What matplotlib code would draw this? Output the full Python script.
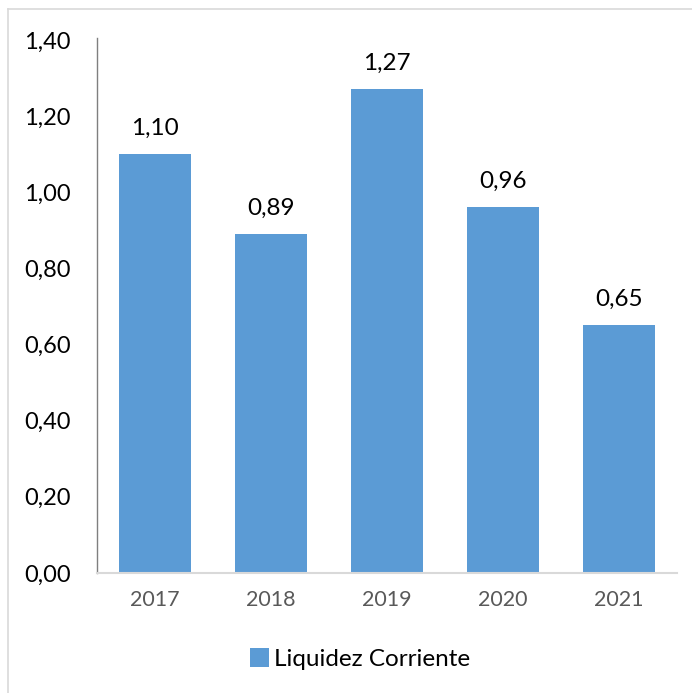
import matplotlib.pyplot as plt
from matplotlib.lines import Line2D

years = ['2017', '2018', '2019', '2020', '2021']
liquidez = [1.10, 0.89, 1.27, 0.96, 0.65]
y_ticks = [0.0, 0.2, 0.4, 0.6, 0.8, 1.0, 1.2, 1.4]

plt.rcParams['font.family'] = ['Lato', 'DejaVu Sans']

fig = plt.figure(figsize=(6.92, 6.93), dpi=100)
ax = fig.add_axes([97/692, 1 - 573/693, 580/692, 535/693])

color = '#5B9BD5'
x = range(len(years))
bars = ax.bar(x, liquidez, width=0.62, color=color, label='Liquidez Corriente', zorder=2)

for xi, v in zip(x, liquidez):
    ax.text(xi, v + 0.04, f'{v:.2f}'.replace('.', ','), ha='center', va='bottom',
            fontsize=17.5, color='black')

ax.set_xlim(-0.5, len(years) - 0.5)
ax.set_ylim(0, 1.405)
ax.set_yticks(y_ticks)
ax.set_yticklabels([f'{t:.2f}'.replace('.', ',') for t in y_ticks], fontsize=17, color='black')
ax.set_xticks(list(x))
ax.set_xticklabels(years, fontsize=15.5, color='#595959')
ax.tick_params(axis='both', length=0)
ax.tick_params(axis='y', pad=19)
ax.tick_params(axis='x', pad=12)

for s in ['top', 'right']:
    ax.spines[s].set_visible(False)
ax.spines['left'].set_color('#7F7F7F')
ax.spines['left'].set_linewidth(1.0)
ax.spines['bottom'].set_color('#D9D9D9')
ax.spines['bottom'].set_linewidth(1.5)

fig.legend(handles=[bars], labels=['Liquidez Corriente'], loc='center',
           bbox_to_anchor=(360/692, 1 - 659/693), frameon=False, fontsize=17.5,
           handlelength=0.8, handleheight=0.8, handletextpad=0.2)

# chart border (only top and left visible in the crop)
fig.add_artist(Line2D([8/692, 1], [1 - 8.5/693, 1 - 8.5/693], color='#D9D9D9', lw=1.2))
fig.add_artist(Line2D([8/692, 8/692], [0, 1 - 8.5/693], color='#D9D9D9', lw=1.2))

fig.savefig('out.png', dpi=100)
